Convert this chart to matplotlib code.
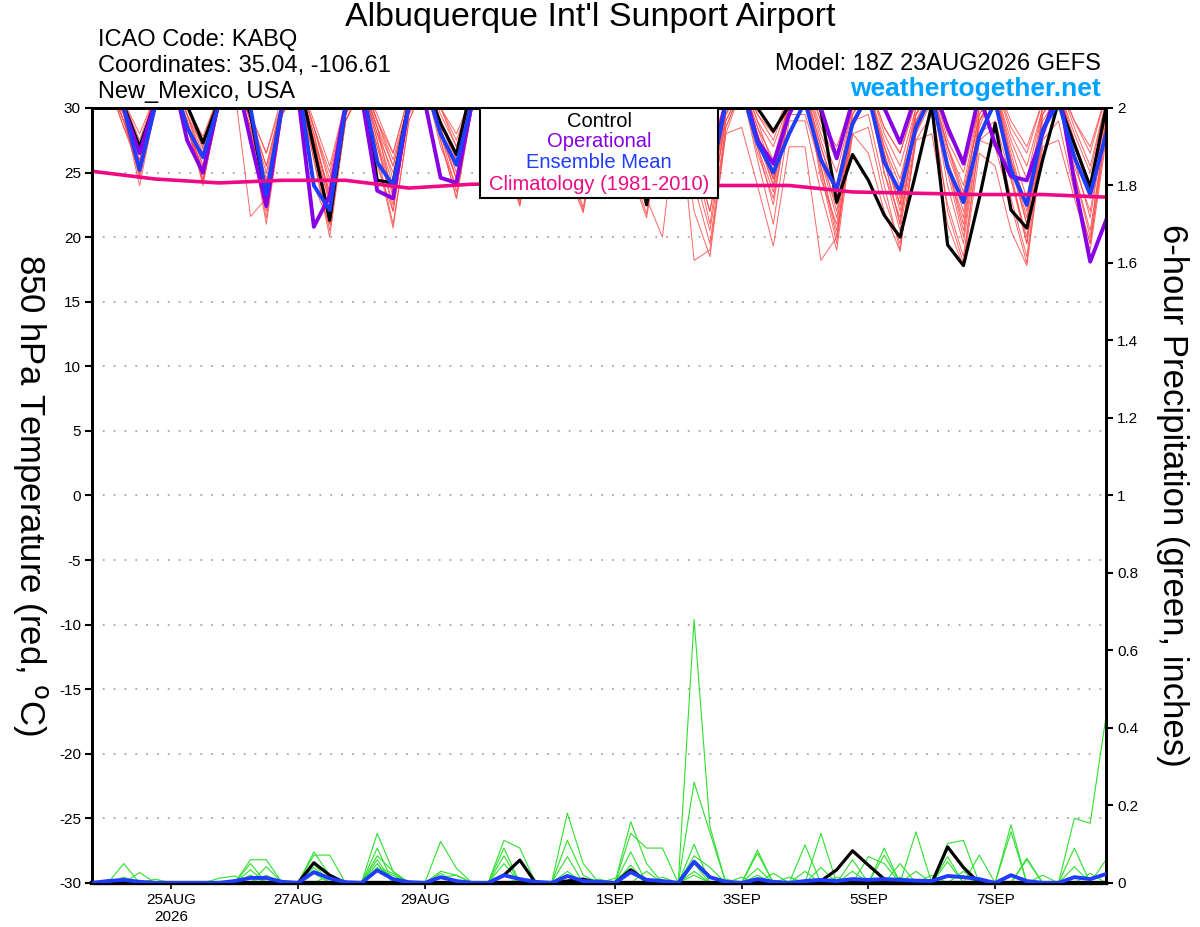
import pandas as pd
import numpy as np
import matplotlib
matplotlib.use('Agg')
import matplotlib.pyplot as plt
from matplotlib.patches import Rectangle

plt.rcParams['font.family'] = ['Liberation Sans', 'DejaVu Sans']
plt.rcParams['axes.unicode_minus'] = False

# 6-hourly GEFS steps from 18Z 23AUG2026
times = pd.date_range('2026-08-23 18:00', periods=65, freq='6h')

tick_dates = pd.to_datetime(['2026-08-25', '2026-08-27', '2026-08-29', '2026-09-01',
                             '2026-09-03', '2026-09-05', '2026-09-07'])
tick_labels = ['25AUG\n2026', '27AUG', '29AUG', '1SEP', '3SEP', '5SEP', '7SEP']

# 850 hPa temperature (C) - per day: 00Z, 06Z, 12Z, 18Z
control = [32.0,
           33.0, 30.2, 27.0, 30.5, 33.0, 30.2, 27.3, 30.5, 33.0, 29.5, 22.9, 30.3,
           32.5, 26.9, 21.3, 30.0, 32.5, 24.4, 24.2, 30.5, 32.0, 28.8, 26.4, 32.0,
           32.0, 29.0, 24.5, 30.5, 32.0, 29.0, 25.0, 30.5, 32.0, 28.5, 22.5, 29.5,
           32.0, 29.0, 24.0, 30.5, 32.0, 30.0, 28.2, 30.2, 32.0, 29.8, 22.7, 26.4,
           24.4, 21.7, 20.0, 25.0, 30.2, 19.4, 17.8, 23.0, 28.8, 22.1, 20.7, 26.0,
           30.5, 27.2, 23.9, 30.0]
operational = [32.0,
               33.0, 30.0, 26.5, 30.5, 33.0, 27.5, 25.0, 30.5, 33.0, 27.5, 22.4, 30.2,
               31.0, 20.8, 23.2, 30.3, 31.0, 23.6, 23.0, 30.3, 30.5, 24.6, 24.2, 30.5,
               32.0, 28.5, 25.0, 30.5, 32.0, 28.0, 24.0, 30.5, 32.0, 29.0, 24.5, 30.3,
               32.0, 28.5, 25.0, 30.5, 32.0, 27.5, 25.7, 29.5, 32.0, 30.0, 26.1, 30.5,
               32.0, 30.0, 27.3, 31.0, 32.0, 28.5, 25.7, 31.0, 27.2, 24.7, 24.4, 28.0,
               31.5, 24.3, 18.1, 21.3]
ens_mean = [31.5,
            32.5, 30.0, 25.2, 30.2, 32.5, 28.5, 26.2, 30.3, 32.5, 30.0, 23.3, 30.2,
            32.0, 24.0, 22.1, 30.0, 32.0, 25.8, 24.0, 30.2, 32.0, 28.0, 25.6, 30.5,
            32.0, 28.5, 24.8, 30.3, 32.0, 28.5, 25.0, 30.3, 32.0, 28.5, 24.2, 30.0,
            32.0, 28.3, 24.3, 30.3, 31.5, 27.3, 25.0, 28.0, 30.5, 26.0, 23.7, 28.8,
            31.0, 25.8, 23.5, 28.5, 31.0, 25.4, 22.7, 27.8, 30.5, 25.2, 22.5, 28.3,
            30.5, 26.2, 23.3, 28.0]

# climatology, daily at 18Z
clim = [25.1, 24.5, 24.2, 24.4, 24.4, 23.8, 24.1, 24.1, 24.1, 24.0, 24.0, 24.0,
        23.5, 23.4, 23.3, 23.3, 23.1]

# ensemble members
temp_m01 = [31.5,
            32.5, 29.5, 24.0, 30.0, 32.0, 28.5, 24.5, 30.0, 32.0, 28.0, 21.0, 29.5,
            32.0, 26.0, 20.0, 29.0, 31.5, 25.5, 22.0, 30.0, 32.0, 27.5, 23.0, 30.5,
            32.0, 27.0, 22.5, 30.0, 31.5, 26.0, 22.0, 29.5, 31.0, 25.0, 21.5, 29.0,
            31.0, 22.0, 18.5, 28.0, 31.5, 26.5, 23.0, 29.5, 31.5, 24.5, 21.0, 29.0,
            29.5, 24.0, 19.0, 28.0, 30.5, 22.0, 18.0, 27.5, 28.5, 23.0, 18.5, 28.0,
            31.0, 24.0, 19.5, 28.5]
temp_m02 = [32.0,
            33.0, 30.5, 28.0, 31.0, 33.0, 30.0, 27.5, 31.0, 33.0, 29.5, 26.5, 31.0,
            32.5, 28.5, 25.0, 30.5, 32.5, 29.0, 26.5, 31.0, 33.0, 30.0, 28.0, 31.0,
            33.0, 29.5, 27.5, 31.0, 32.5, 29.0, 27.5, 30.5, 32.5, 28.5, 27.0, 30.5,
            32.5, 29.0, 27.0, 30.5, 32.5, 29.5, 28.0, 31.0, 32.5, 29.0, 27.0, 30.5,
            32.0, 28.5, 26.5, 30.5, 32.0, 28.0, 26.0, 30.0, 32.0, 29.0, 27.0, 30.5,
            32.0, 29.0, 27.0, 31.0]
temp_m03 = [31.0,
            32.0, 29.0, 25.5, 30.5, 32.5, 29.0, 25.0, 30.5, 32.0, 28.5, 23.5, 30.0,
            32.0, 27.0, 22.0, 29.5, 32.0, 27.5, 23.5, 30.0, 32.5, 28.5, 25.0, 30.5,
            32.0, 28.0, 24.0, 30.0, 32.0, 27.5, 23.5, 30.0, 31.5, 27.0, 23.0, 29.5,
            31.5, 26.0, 22.0, 29.0, 31.5, 27.5, 24.5, 30.0, 31.0, 26.0, 22.5, 28.5,
            31.0, 25.0, 21.5, 28.5, 31.0, 26.0, 22.0, 29.0, 31.0, 25.5, 21.0, 28.5,
            31.0, 26.0, 21.5, 29.0]
temp_m04 = [32.0,
            32.5, 30.0, 26.5, 31.0, 32.5, 29.5, 26.0, 30.5, 32.5, 29.0, 24.5, 30.5,
            32.0, 28.0, 23.0, 30.0, 32.0, 28.5, 24.5, 30.5, 32.5, 29.0, 26.0, 31.0,
            32.5, 29.0, 25.5, 30.5, 32.0, 28.5, 25.0, 30.5, 32.0, 28.0, 25.0, 30.0,
            32.0, 28.0, 24.5, 30.0, 32.0, 28.5, 26.0, 30.5, 31.5, 26.5, 22.0, 29.5,
            31.5, 27.0, 23.0, 29.5, 31.5, 27.0, 23.5, 29.5, 31.5, 27.0, 23.0, 30.0,
            31.5, 27.5, 24.0, 30.0]
temp_m05 = [31.0,
            32.0, 28.5, 26.0, 30.0, 32.0, 29.0, 25.5, 30.0, 31.5, 21.6, 23.0, 30.0,
            31.5, 24.0, 21.0, 29.0, 31.5, 26.0, 20.7, 29.0, 32.0, 27.0, 24.0, 30.0,
            32.0, 26.0, 22.4, 29.5, 31.5, 25.0, 21.9, 29.0, 30.5, 25.0, 23.0, 20.0,
            30.5, 18.2, 19.0, 28.0, 28.5, 24.0, 19.3, 27.0, 27.0, 18.2, 20.0, 28.0,
            26.5, 22.0, 18.9, 27.5, 28.0, 21.0, 17.7, 26.5, 25.5, 20.5, 17.8, 27.0,
            27.5, 23.0, 19.0, 27.5]
temp_m06 = [31.5,
            32.5, 30.0, 27.0, 30.5, 32.5, 29.5, 27.0, 30.5, 32.5, 29.0, 25.5, 30.5,
            32.0, 28.5, 24.0, 30.0, 32.0, 29.0, 25.5, 30.5, 32.5, 29.5, 27.0, 31.0,
            32.5, 29.0, 26.5, 30.5, 32.0, 29.0, 26.0, 30.5, 32.0, 28.5, 26.0, 30.5,
            32.0, 28.0, 25.5, 30.0, 32.0, 29.0, 27.0, 30.5, 32.0, 28.0, 25.0, 30.0,
            31.5, 27.5, 24.5, 29.5, 31.5, 26.5, 23.0, 29.5, 31.5, 27.5, 24.5, 30.0,
            31.5, 28.0, 25.0, 30.5]
temp_m07 = [31.0,
            32.0, 29.0, 24.8, 30.0, 32.0, 28.5, 24.3, 30.0, 32.0, 28.0, 22.0, 29.5,
            31.5, 26.5, 21.0, 29.0, 31.5, 27.0, 22.5, 29.5, 32.0, 28.0, 23.5, 30.0,
            32.0, 27.5, 23.0, 30.0, 31.5, 27.0, 23.0, 29.5, 31.5, 26.5, 22.5, 29.5,
            31.5, 25.0, 20.5, 28.5, 31.5, 27.0, 23.5, 29.5, 29.5, 25.5, 20.5, 28.5,
            31.0, 25.0, 20.5, 28.0, 31.0, 24.0, 19.5, 28.0, 29.0, 24.5, 19.5, 28.0,
            31.0, 25.0, 20.5, 28.5]
temp_m08 = [32.0,
            33.0, 30.5, 27.5, 31.0, 33.0, 30.0, 26.8, 31.0, 32.5, 29.5, 25.5, 30.5,
            32.5, 28.5, 24.5, 30.5, 32.5, 29.0, 26.0, 30.5, 33.0, 30.0, 27.0, 31.0,
            32.5, 29.5, 26.0, 31.0, 32.5, 29.0, 27.0, 30.5, 32.5, 29.0, 26.5, 30.5,
            32.5, 28.5, 26.0, 30.5, 32.5, 29.0, 25.5, 30.5, 32.0, 28.5, 26.0, 30.5,
            32.0, 28.0, 25.5, 30.0, 32.0, 27.5, 25.0, 30.0, 32.0, 28.0, 25.5, 30.0,
            32.0, 28.5, 25.5, 30.5]
temp_m09 = [31.5,
            32.5, 29.5, 25.0, 30.5, 32.5, 29.0, 24.8, 30.0, 32.0, 28.0, 22.5, 30.0,
            32.0, 27.0, 21.5, 29.5, 32.0, 27.5, 22.0, 30.0, 32.0, 28.0, 24.5, 30.5,
            32.0, 27.5, 24.0, 30.0, 32.0, 27.0, 24.5, 30.0, 31.5, 26.5, 24.0, 29.5,
            31.5, 26.0, 23.0, 29.5, 31.5, 27.0, 22.5, 30.0, 31.5, 25.0, 19.5, 29.0,
            31.0, 26.0, 21.0, 29.0, 31.0, 25.5, 20.5, 29.0, 31.0, 24.5, 20.0, 28.5,
            31.0, 25.5, 22.0, 29.0]
temp_m10 = [31.0,
            32.0, 29.0, 26.0, 30.0, 32.0, 29.0, 25.0, 30.0, 32.0, 28.5, 23.0, 30.0,
            32.0, 27.5, 22.5, 29.5, 32.0, 28.0, 24.0, 30.0, 32.5, 28.5, 24.5, 30.5,
            32.0, 28.0, 23.5, 30.0, 32.0, 28.0, 24.0, 30.0, 32.0, 27.5, 23.5, 30.0,
            32.0, 27.0, 23.0, 29.5, 32.0, 28.0, 24.0, 30.0, 31.5, 27.0, 23.5, 29.5,
            31.5, 26.5, 22.5, 29.5, 31.5, 25.5, 21.5, 29.0, 31.5, 26.5, 22.0, 29.5,
            31.5, 26.5, 23.0, 29.5]
temp_m11 = [32.0,
            32.5, 29.5, 25.8, 30.5, 32.5, 29.5, 25.5, 30.5, 32.5, 29.0, 24.0, 30.5,
            32.0, 28.0, 23.0, 30.0, 32.0, 28.5, 23.0, 30.0, 32.5, 29.0, 25.5, 30.5,
            32.5, 28.5, 25.0, 30.5, 32.0, 28.5, 25.5, 30.5, 32.0, 28.0, 24.5, 30.0,
            32.0, 27.0, 24.0, 30.0, 32.0, 28.5, 25.0, 30.5, 32.0, 27.5, 24.0, 30.0,
            31.5, 27.0, 24.0, 30.0, 31.5, 27.0, 24.0, 30.0, 31.5, 26.0, 22.5, 29.5,
            31.5, 27.0, 24.0, 30.0]
temp_m12 = [31.5,
            32.0, 29.5, 24.5, 30.0, 32.0, 29.0, 24.2, 30.0, 32.0, 28.0, 21.5, 29.5,
            31.5, 26.0, 20.5, 29.0, 31.5, 26.5, 21.0, 29.0, 32.0, 27.5, 23.0, 30.0,
            32.0, 27.0, 22.8, 29.5, 31.5, 26.0, 22.3, 29.0, 31.5, 25.5, 21.8, 29.0,
            31.5, 24.0, 19.5, 28.5, 31.5, 26.0, 21.0, 29.0, 29.0, 23.5, 19.0, 28.0,
            28.5, 23.0, 19.5, 27.5, 29.5, 22.5, 18.5, 27.5, 27.0, 22.5, 18.0, 27.5,
            29.0, 23.5, 19.5, 28.0]
temp_m13 = [32.0,
            33.0, 30.0, 27.0, 31.0, 32.5, 30.0, 27.8, 31.0, 32.5, 29.5, 26.5, 30.5,
            32.5, 29.0, 25.5, 30.5, 32.5, 29.5, 26.5, 31.0, 33.0, 30.0, 27.5, 31.0,
            33.0, 29.5, 27.0, 31.0, 32.5, 29.5, 27.5, 31.0, 32.5, 29.0, 27.0, 30.5,
            32.5, 29.0, 26.5, 30.5, 32.5, 29.5, 27.5, 31.0, 32.5, 29.0, 26.5, 31.0,
            32.0, 28.5, 26.5, 30.5, 32.0, 28.5, 26.0, 30.5, 32.0, 28.5, 26.5, 30.5,
            32.0, 29.0, 26.5, 31.0]
temp_m14 = [31.0,
            32.0, 28.5, 25.2, 30.0, 32.0, 28.5, 25.2, 30.0, 32.0, 28.0, 23.8, 29.5,
            31.5, 27.0, 22.8, 29.5, 31.5, 27.0, 23.5, 29.5, 32.0, 28.0, 24.5, 30.0,
            32.0, 27.5, 24.5, 30.0, 31.5, 27.0, 24.5, 29.5, 31.5, 27.0, 23.5, 29.5,
            31.5, 26.5, 22.0, 29.0, 31.5, 28.0, 24.5, 30.0, 31.5, 26.0, 21.5, 29.0,
            31.0, 26.5, 22.0, 29.0, 31.0, 25.5, 21.0, 29.0, 31.0, 26.0, 21.0, 29.0,
            31.0, 26.5, 23.0, 29.5]
temp_m15 = [31.5,
            32.5, 29.0, 25.0, 30.0, 32.5, 29.5, 26.5, 30.5, 32.0, 28.5, 24.0, 30.0,
            32.0, 27.5, 23.5, 29.5, 32.0, 28.0, 25.0, 30.0, 32.5, 29.0, 26.0, 30.5,
            32.0, 28.5, 25.5, 30.0, 32.0, 27.5, 24.0, 30.0, 32.0, 27.5, 25.5, 30.0,
            32.0, 26.5, 21.0, 29.5, 32.0, 27.5, 24.0, 30.0, 31.5, 25.5, 20.0, 29.0,
            31.5, 26.0, 21.0, 29.0, 31.5, 25.0, 20.0, 28.5, 31.5, 25.0, 19.5, 28.5,
            31.5, 25.0, 20.0, 29.0]
temp_m16 = [32.0,
            33.0, 30.0, 26.8, 31.0, 32.5, 29.0, 24.0, 30.5, 32.5, 29.0, 25.0, 30.5,
            32.0, 27.5, 23.5, 30.0, 32.0, 28.5, 25.5, 30.5, 32.5, 29.0, 26.5, 31.0,
            32.0, 28.5, 25.5, 30.5, 32.0, 28.0, 25.0, 30.5, 32.0, 28.0, 25.0, 30.0,
            31.5, 27.5, 26.0, 30.0, 32.0, 28.0, 24.5, 30.5, 31.5, 27.0, 23.0, 29.5,
            31.5, 26.5, 22.5, 29.5, 31.5, 27.0, 23.0, 29.5, 31.5, 26.0, 21.5, 29.5,
            31.5, 27.0, 23.5, 30.0]

# 6-hour precipitation (inches)
precip_control = [0, 0, 0, 0, 0, 0, 0, 0, 0, 0, 0, 0, 0,
                  0, .052, .02, 0, 0, 0, 0, 0, 0, 0, 0, 0, 0,
                  .02, .059, 0, 0, .005, .01, 0, 0, .034, .005, 0, 0, 0,
                  0, 0, 0, 0, 0, 0, 0, .005, .034, .083, .046, .01, 0,
                  0, 0, .093, .04, 0, 0, 0, 0, 0, 0, 0, 0, 0]
precip_mean = [0, .005, .008, .003, 0, 0, 0, 0, 0, .005, .013, .013, .003,
               0, .028, .012, .002, 0, .033, .01, .002, 0, .015, .005, 0, 0,
               .02, .01, .003, 0, .018, .005, .003, 0, .028, .008, .005, 0, .055,
               .015, .003, 0, .01, .003, 0, .005, .008, .005, .01, .008, .01, .008,
               .006, .005, .018, .015, .01, 0, .02, .005, 0, 0, .015, .01, .023]
precip_m01 = [0, 0, .05, 0, 0, 0, 0, 0, 0, 0, .06, .06, 0,
              0, 0, 0, 0, 0, .128, .03, 0, 0, 0, 0, 0, 0,
              0, 0, 0, 0, .18, .05, 0, 0, 0, 0, 0, 0, .68,
              .145, 0, 0, .085, 0, 0, 0, .128, 0, 0, 0, 0, 0,
              .132, 0, 0, 0, 0, 0, .15, 0, 0, 0, .167, .154, .43]
precip_m02 = [0, 0, 0, .027, 0, 0, 0, 0, 0, 0, 0, 0, 0,
              0, .08, .02, 0, 0, 0, 0, 0, 0, .107, .038, 0, 0,
              0, 0, 0, 0, 0, 0, 0, 0, .158, .05, 0, 0, .26,
              .13, 0, 0, 0, 0, 0, .098, 0, 0, 0, 0, .09, 0,
              0, 0, .102, .11, 0, 0, 0, .064, 0, 0, 0, 0, 0]
precip_m03 = [0, 0, 0, 0, 0, 0, 0, 0, 0, 0, .05, 0, 0,
              0, .072, .072, 0, 0, .09, 0, 0, 0, 0, 0, 0, 0,
              .11, .09, 0, 0, 0, 0, 0, 0, .128, .09, .09, 0, .1,
              0, 0, 0, .077, 0, 0, 0, 0, 0, 0, .068, .05, 0,
              0, 0, 0, 0, 0, 0, .132, 0, 0, 0, .09, 0, 0]
precip_m04 = [0, 0, 0, 0, 0, 0, 0, 0, 0, 0, 0, .042, 0,
              0, 0, 0, 0, 0, .07, .03, 0, 0, 0, 0, 0, 0,
              .09, 0, 0, 0, .11, .02, 0, 0, .08, 0, 0, 0, .07,
              .04, 0, 0, 0, 0, 0, 0, 0, 0, .06, 0, 0, .05,
              0, 0, 0, 0, .072, 0, 0, 0, 0, 0, 0, 0, .06]
precip_m05 = [0, 0, .015, 0, 0, 0, 0, 0, 0, 0, .034, 0, 0,
              0, .05, 0, 0, 0, .06, 0, 0, 0, .03, .02, 0, 0,
              .07, 0, 0, 0, .068, 0, 0, 0, .046, 0, 0, 0, .05,
              0, 0, 0, .038, 0, 0, 0, .04, 0, 0, 0, .072, 0,
              0, 0, .068, 0, 0, 0, 0, 0, 0, 0, .042, 0, 0]
precip_m06 = [0, 0, 0, 0, 0, 0, 0, 0, .012, .018, 0, 0, 0,
              0, .04, 0, 0, 0, .05, 0, 0, 0, .025, 0, 0, 0,
              0, .01, 0, 0, .03, 0, 0, 0, 0, .03, 0, 0, .03,
              0, 0, 0, 0, .025, 0, .03, 0, 0, 0, 0, 0, .015,
              0, 0, .055, 0, 0, 0, 0, .06, 0, 0, 0, 0, 0]
precip_m07 = [0, 0, 0, 0, .01, 0, 0, 0, 0, 0, 0, .02, 0,
              0, 0, .02, 0, 0, .04, .025, 0, 0, 0, 0, 0, 0,
              .05, 0, 0, 0, 0, 0, 0, .012, .03, 0, .015, 0, 0,
              0, 0, .015, 0, 0, .015, 0, 0, 0, .03, 0, 0, 0,
              .03, 0, 0, .03, 0, 0, 0, 0, .02, 0, 0, 0, 0]
precip_m08 = [0, 0, 0, 0, 0, 0, 0, 0, 0, 0, .02, 0, 0,
              0, .025, 0, 0, 0, .035, .02, 0, 0, .015, .02, 0, 0,
              0, 0, 0, 0, 0, 0, .01, 0, 0, 0, 0, 0, .02,
              0, .01, 0, .02, 0, 0, 0, 0, .015, 0, 0, 0, 0,
              0, .02, 0, 0, .01, 0, 0, 0, 0, 0, 0, .025, 0]

temp_members = [temp_m01, temp_m02, temp_m03, temp_m04, temp_m05, temp_m06, temp_m07, temp_m08,
                temp_m09, temp_m10, temp_m11, temp_m12, temp_m13, temp_m14, temp_m15, temp_m16]
precip_members = [precip_m01, precip_m02, precip_m03, precip_m04,
                  precip_m05, precip_m06, precip_m07, precip_m08]

RED = '#ff4a4a'
GREEN = '#2ee02e'
PURPLE = '#8800e6'
BLUE = '#1f3dff'
PINK = '#ee0a82'

fig = plt.figure(figsize=(12, 9.27), dpi=100)
ax = fig.add_axes([0.0767, 0.0475, 0.845, 0.836])

for m in temp_members:
    ax.plot(times, m, color=RED, lw=0.7, alpha=0.85, zorder=2)
ax.plot(times, control, color='black', lw=2.3, zorder=3)
ax.plot(times, operational, color=PURPLE, lw=2.8, zorder=4)
ax.plot(times, ens_mean, color=BLUE, lw=2.8, zorder=5)
ax.plot(times[::4], clim, color=PINK, lw=2.6, zorder=6)

ax.set_ylim(-30, 30)
ax.set_xlim(times[0], times[-1])
ax.set_yticks(range(-30, 31, 5))
ax.yaxis.grid(True, linestyle=(0, (1, 5)), color='#a8a8a8', lw=1.3)
ax.set_xticks(tick_dates)
ax.set_xticklabels(tick_labels, linespacing=1.3)
ax.tick_params(axis='y', direction='out', length=5, width=1.5, labelsize=11, pad=3)
ax.tick_params(axis='x', direction='out', length=4, width=1.2, labelsize=11, pad=3)

# precipitation on right axis
ax2 = ax.twinx()
for p in precip_members:
    ax2.plot(times, p, color=GREEN, lw=0.8, zorder=2)
ax2.plot(times, precip_control, color='black', lw=2.3, zorder=3)
ax2.plot(times, precip_mean, color=BLUE, lw=2.8, zorder=4)
ax2.set_ylim(0, 2)
rticks = np.round(np.arange(0, 2.01, 0.2), 1)
ax2.set_yticks(rticks)
ax2.set_yticklabels([f'{v:g}' for v in rticks])
ax2.tick_params(axis='y', direction='out', length=5, width=1.5, labelsize=11, pad=3)

for a in (ax, ax2):
    for s in a.spines.values():
        s.set_linewidth(2)
    a.spines['bottom'].set_linewidth(3)

# legend box
ax2.add_patch(Rectangle((0.3826, 0.8839), 0.2348, 0.1161, transform=ax2.transAxes,
                        facecolor='white', edgecolor='black', lw=1.5, zorder=10, clip_on=False))
legend_items = [('Control', 'black'), ('Operational', PURPLE),
                ('Ensemble Mean', BLUE), ('Climatology (1981-2010)', PINK)]
for (txt, col), yy in zip(legend_items, [0.9832, 0.9574, 0.9303, 0.9019]):
    ax2.text(0.5, yy, txt, color=col, fontsize=14.5, ha='center', va='center',
             transform=ax2.transAxes, zorder=11)

# header
fig.text(0.4917, 0.9806, "Albuquerque Int'l Sunport Airport", fontsize=24.5, ha='center', va='center')
fig.text(0.0817, 0.9569, 'ICAO Code: KABQ', fontsize=17, ha='left', va='center')
fig.text(0.0817, 0.9288, 'Coordinates: 35.04, -106.61', fontsize=17, ha='left', va='center')
fig.text(0.0817, 0.9008, 'New_Mexico, USA', fontsize=17, ha='left', va='center')
fig.text(0.9175, 0.9310, 'Model: 18Z 23AUG2026 GEFS', fontsize=17, ha='right', va='center')
fig.text(0.9175, 0.9040, 'weathertogether.net', fontsize=19, fontweight='bold',
         color='#00a2ff', ha='right', va='center')

fig.text(0.025, 0.466, '850 hPa Temperature (red, $^\\mathrm{o}$C)', fontsize=25,
         rotation=270, ha='center', va='center')
fig.text(0.977, 0.466, '6-hour Precipitation (green, inches)', fontsize=25,
         rotation=270, ha='center', va='center')

fig.savefig('out.png', dpi=100)
